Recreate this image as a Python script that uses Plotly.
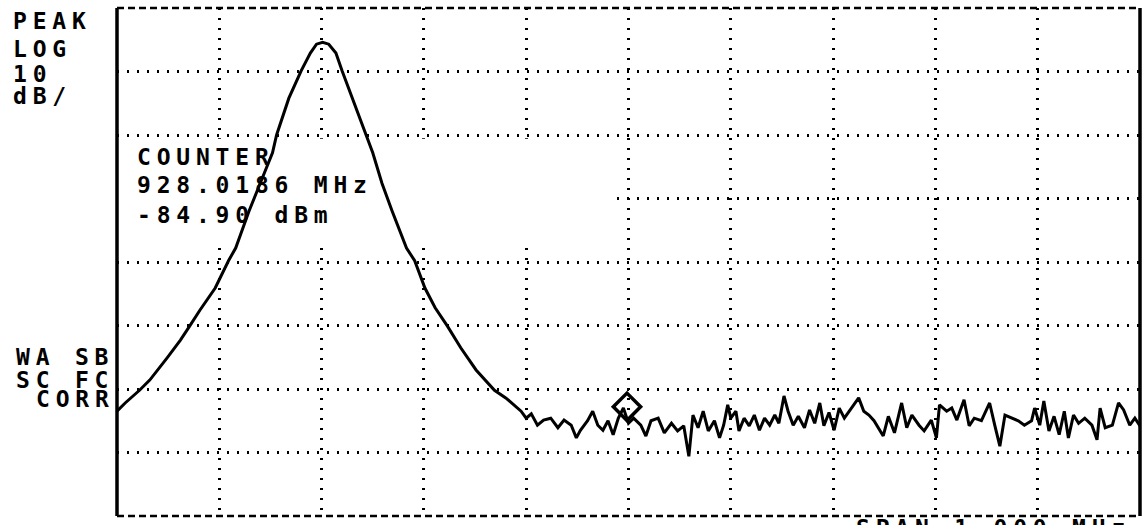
import plotly.graph_objects as go

# ---------------- data ----------------
signal_freq_mhz = [927.500, 927.508, 927.522, 927.532, 927.549, 927.562, 927.571, 927.581,
                   927.596, 927.609, 927.616, 927.629, 927.640, 927.652, 927.656, 927.668,
                   927.680, 927.689, 927.695, 927.701, 927.707, 927.714, 927.720, 927.730,
                   927.743, 927.750, 927.759, 927.769, 927.783, 927.791, 927.801, 927.811,
                   927.823, 927.836, 927.851, 927.869, 927.880, 927.887, 927.895]
signal_level_dbm = [-83.5, -82.2, -80.2, -78.6, -75.1, -72.3, -70.1, -67.6,
                    -64.1, -59.8, -57.8, -52.0, -47.6, -42.8, -40.0, -34.2,
                    -29.9, -27.1, -25.7, -25.4, -25.7, -27.1, -29.9, -34.2,
                    -40.0, -42.8, -47.6, -52.0, -57.8, -59.8, -64.1, -67.2,
                    -70.1, -73.5, -77.0, -80.2, -81.4, -82.4, -83.5]

noise_freq_mhz = [927.900, 927.905, 927.911, 927.917, 927.924, 927.931, 927.937, 927.944, 927.949, 927.953,
                  927.960, 927.965, 927.970, 927.975, 927.980, 927.985, 927.990, 927.995, 928.000, 928.005,
                  928.012, 928.017, 928.022, 928.029, 928.035, 928.042, 928.048, 928.054, 928.059, 928.063,
                  928.068, 928.073, 928.078, 928.084, 928.089, 928.093, 928.097, 928.100, 928.105, 928.108,
                  928.113, 928.118, 928.123, 928.128, 928.133, 928.138, 928.143, 928.147, 928.152, 928.156,
                  928.161, 928.166, 928.172, 928.177, 928.182, 928.187, 928.191, 928.196, 928.201, 928.206,
                  928.211, 928.218, 928.225, 928.230, 928.235, 928.240, 928.249, 928.254, 928.260, 928.267,
                  928.272, 928.277, 928.284, 928.289, 928.296, 928.301, 928.304, 928.311, 928.316, 928.321,
                  928.328, 928.333, 928.338, 928.345, 928.353, 928.358, 928.363, 928.368, 928.375, 928.381,
                  928.387, 928.394, 928.397, 928.402, 928.406, 928.411, 928.416, 928.421, 928.426, 928.430,
                  928.435, 928.440, 928.446, 928.453, 928.458, 928.461, 928.466, 928.473, 928.479, 928.484,
                  928.490, 928.495, 928.500]
noise_level_dbm = [-84.6, -83.9, -85.7, -84.9, -84.6, -86.1, -84.9, -85.7, -87.7, -86.5,
                   -85.0, -83.5, -85.7, -86.5, -85.0, -87.2, -84.6, -83.0, -85.4, -84.6,
                   -85.7, -87.4, -85.0, -84.6, -86.9, -85.4, -86.6, -85.8, -90.6, -84.1,
                   -86.1, -83.5, -86.6, -85.0, -87.7, -85.7, -82.5, -84.6, -83.5, -86.6,
                   -84.6, -85.8, -84.1, -86.5, -84.6, -85.7, -84.1, -85.4, -81.1, -83.5,
                   -85.7, -84.3, -86.1, -83.3, -85.4, -82.2, -85.8, -83.7, -86.5, -83.0,
                   -84.6, -83.0, -81.4, -83.5, -84.1, -85.0, -87.4, -84.3, -86.9, -82.2,
                   -86.1, -84.1, -85.7, -86.6, -84.9, -87.7, -82.5, -83.5, -83.0, -84.9,
                   -81.7, -85.8, -84.6, -85.0, -82.2, -85.7, -89.0, -84.1, -84.6, -85.0,
                   -85.7, -85.0, -83.0, -85.7, -81.9, -86.6, -84.3, -87.2, -83.5, -87.7,
                   -84.1, -85.4, -84.6, -85.7, -88.0, -83.0, -86.1, -85.7, -82.2, -83.3,
                   -85.7, -84.6, -85.8]

marker_freq_mhz = [927.9985]
marker_level_dbm = [-82.8]

freq_start, freq_stop = 927.5, 928.5
ref_level, bottom_level = -20, -100

left_labels = ["PEAK", "LOG", "10", "dB/"]
status_labels = ["WA SB", "SC FC", "CORR"]
counter_labels = ["COUNTER", "928.0186 MHz", "-84.90 dBm"]
span_label = "SPAN 1.000 MHz"

# ---------------- layout constants ----------------
W, H = 1143, 525
ML, MR, MT, MB = 117, 3, 8, 9
PW, PH = W - ML - MR, H - MT - MB

def px(x):
    return (x - ML) / PW

def py(y):
    return (H - MB - y) / PH

FONT = dict(family="DejaVu Sans Mono", size=23, color="black", weight="bold")

fig = go.Figure()
fig.add_trace(go.Scatter(
    x=signal_freq_mhz + noise_freq_mhz,
    y=signal_level_dbm + noise_level_dbm,
    mode="lines", line=dict(color="black", width=3),
    hoverinfo="skip", showlegend=False))
fig.add_trace(go.Scatter(
    x=marker_freq_mhz, y=marker_level_dbm, mode="markers",
    marker=dict(symbol="diamond-open", size=21, color="black", line=dict(width=3.5, color="black")),
    hoverinfo="skip", showlegend=False))

annotations = []
def add_text(txt, x, y_top):
    annotations.append(dict(text=txt, x=px(x), y=py(y_top - 5), xref="paper", yref="paper",
                            xanchor="left", yanchor="top", align="left", showarrow=False,
                            font=FONT, borderpad=0))

for t, y in zip(left_labels, [12, 40, 65, 87]):
    add_text(t, 12, y)
for t, x, y in zip(status_labels, [15, 15, 35], [348, 371, 390]):
    add_text(t, x, y)
for t, y in zip(counter_labels, [148, 176, 206]):
    add_text(t, 136, y)
add_text(span_label, 855, 519)

dash_border = dict(color="black", width=2.5, dash="7px,4px")
solid_border = dict(color="black", width=3.5)
shapes = [
    # blanked area behind the counter readout
    dict(type="rect", xref="x", yref="y", x0=freq_start, x1=927.985, y0=-57.0, y1=-40.6,
         fillcolor="white", line=dict(width=0), layer="between"),
    dict(type="line", xref="paper", yref="paper", x0=0, x1=1, y0=1, y1=1, line=dash_border),
    dict(type="line", xref="paper", yref="paper", x0=0, x1=1, y0=0, y1=0, line=dash_border),
    dict(type="line", xref="paper", yref="paper", x0=0, x1=0, y0=0, y1=1, line=solid_border),
    dict(type="line", xref="paper", yref="paper", x0=1, x1=1, y0=0, y1=1, line=solid_border),
]

grid_common = dict(showticklabels=False, ticks="", showline=False, zeroline=False,
                   showgrid=True, gridcolor="black", gridwidth=2.5, griddash="2px,8px")
fig.update_layout(
    width=W, height=H, margin=dict(l=ML, r=MR, t=MT, b=MB),
    paper_bgcolor="white", plot_bgcolor="white",
    xaxis=dict(range=[freq_start, freq_stop], dtick=0.1, tick0=freq_start, **grid_common),
    yaxis=dict(range=[bottom_level, ref_level], dtick=10, tick0=bottom_level, **grid_common),
    annotations=annotations, shapes=shapes, showlegend=False,
)

js = ("document.body.style.margin='0';document.body.style.overflow='hidden';"
      "document.querySelectorAll('.annotation-text').forEach(function(e){"
      "e.style.letterSpacing='5.8px';});")
fig.write_html("out.html", post_script=js, config={"displayModeBar": False})
